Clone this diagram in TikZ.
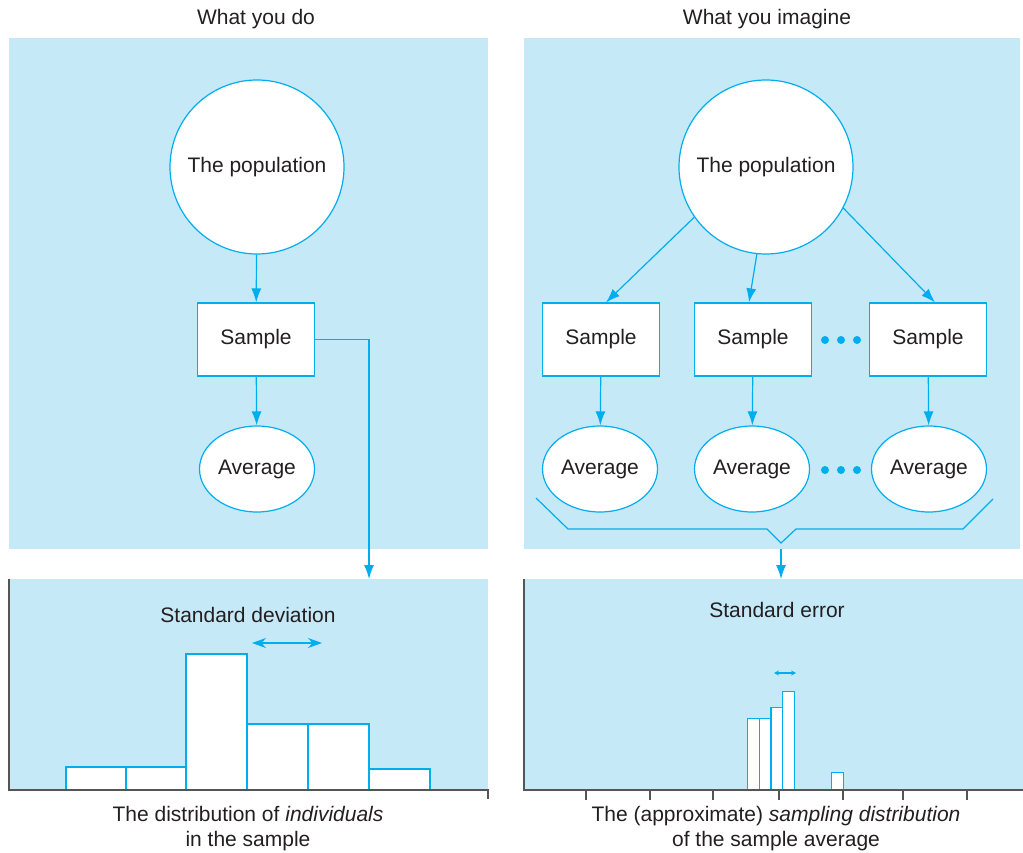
\documentclass[tikz,border=0pt]{standalone}
\usepackage{fontspec}
\setmainfont{Liberation Sans}
\usetikzlibrary{arrows.meta,shapes.geometric}
\definecolor{panelblue}{RGB}{198,233,248}
\definecolor{linecyan}{RGB}{0,174,239}
\definecolor{inkgray}{RGB}{35,31,32}
\definecolor{axisgray}{RGB}{85,85,85}
\tikzset{
  flow/.style={linecyan, line width=1.2pt},
  flowarrow/.style={flow, -{Latex[length=14pt,width=10pt]}},
  popcircle/.style={circle, draw=linecyan, fill=white, line width=1.2pt,
    minimum size=174pt, inner sep=0pt},
  samplebox/.style={rectangle, draw=linecyan, fill=white, line width=1.2pt,
    minimum width=117pt, minimum height=73pt},
  avgellipse/.style={ellipse, draw=linecyan, fill=white, line width=1.2pt,
    minimum width=115pt, minimum height=86pt, inner sep=0pt},
  bar/.style={draw=linecyan, fill=white, line width=1.2pt},
  axis/.style={axisgray, line width=2pt},
  moredots/.style={fill=linecyan}
}

\begin{document}
\begin{tikzpicture}[x=1pt, y=-1pt, text=inkgray,
  font=\fontsize{21}{25}\selectfont]

  \useasboundingbox (0,0) rectangle (1023,853);

  % Panels
  \fill[panelblue] (9,38) rectangle (488,549);
  \fill[panelblue] (524,38) rectangle (1020,549);
  \fill[panelblue] (9,579) rectangle (488,790);
  \fill[panelblue] (524,579) rectangle (1023,790);

  % Titles
  \node (do title) at (256,19) {What you do};
  \node (imagine title) at (767,19) {What you imagine};

  % === What you do ===
  \node[popcircle] (pop) at (257,167) {The population};
  \node[samplebox] (samp) at (256,339.5) {Sample};
  \node[avgellipse] (avg) at (257,469) {Average};
  \draw[flowarrow] (pop) -- (samp);
  \draw[flowarrow] (samp) -- (avg);
  \coordinate (sd in) at (369,579);
  \draw[flowarrow] (samp.east) -| (sd in);

  % === What you imagine ===
  \node[popcircle] (pop r) at (766,167) {The population};
  \node[samplebox] (samp a) at (601,339.5) {Sample};
  \node[samplebox] (samp b) at (753,339.5) {Sample};
  \node[samplebox] (samp c) at (928,339.5) {Sample};
  \node[avgellipse] (avg a) at (600,469) {Average};
  \node[avgellipse] (avg b) at (752,469) {Average};
  \node[avgellipse] (avg c) at (929,469) {Average};
  \draw[flowarrow] (pop r.215) -- ([xshift=5pt]samp a.north);
  \draw[flowarrow] (pop r.264) -- ([xshift=-4pt]samp b.north);
  \draw[flowarrow] (pop r.332) -- ([xshift=7pt]samp c.north);
  \draw[flowarrow] (samp a) -- (avg a);
  \draw[flowarrow] (samp b) -- (avg b);
  \draw[flowarrow] (samp c) -- (avg c);
  % dots between the last two columns
  \fill[moredots] (825,340) circle (4) (841,340) circle (4) (857,340) circle (4);
  \fill[moredots] (825,470) circle (4) (841,470) circle (4) (857,470) circle (4);

  % Brace gathering the averages
  \coordinate (brace tip) at (781,543);
  \draw[flow] (536,498) -- (568,529) -- (767,529) -- (brace tip)
    -- (796,529) -- (963,529) -- (993,499);
  \coordinate (se out) at (781,549);
  \coordinate (se in) at (781,579);
  \draw[flowarrow] (se out) -- (se in);

  % === Histogram of individuals ===
  \draw[bar] (66,790) rectangle (126,767);
  \draw[bar] (126,790) rectangle (186,767);
  \draw[bar] (186,790) rectangle (247,654);
  \draw[bar] (247,790) rectangle (308,724);
  \draw[bar] (308,790) rectangle (369,724);
  \draw[bar] (369,790) rectangle (430,769);
  \draw[axis] (9,579) -- (9,790) -- (488,790) -- (488,799);
  \node (sd label) at (248,615) {Standard deviation};
  \coordinate (sd left) at (252,643);
  \coordinate (sd right) at (322,643);
  \draw[flow, {Stealth[length=14pt,width=10pt]}-{Stealth[length=14pt,width=10pt]}]
    (sd left) -- (sd right);
  \node[align=center] (indiv label) at (248,829)
    {The distribution of \textit{individuals}\\in the sample};

  % === Sampling distribution of the average ===
  \draw[bar] (747.7,790) rectangle (759.3,718.7);
  \draw[bar] (759.3,790) rectangle (771,718.7);
  \draw[bar] (771,790) rectangle (782.3,707.3);
  \draw[bar] (782.3,790) rectangle (794.3,691.3);
  \draw[bar] (831.7,790) rectangle (843.3,772.3);
  \draw[axis] (524,579) -- (524,790) -- (1023,790);
  \draw[axis, line width=1.5pt] (586,790) -- (586,800) (650,790) -- (650,800)
    (713,790) -- (713,800) (779,790) -- (779,800) (843,790) -- (843,800)
    (903,790) -- (903,800) (967,790) -- (967,800);
  \node (se label) at (777,610) {Standard error};
  \coordinate (se left) at (774,673);
  \coordinate (se right) at (796,673);
  \draw[flow, {Stealth[length=5pt,width=5pt]}-{Stealth[length=5pt,width=5pt]}]
    (se left) -- (se right);
  \node[align=center] (avg label) at (776,829)
    {The (approximate) \textit{sampling distribution}\\of the sample average};

\end{tikzpicture}
\end{document}
